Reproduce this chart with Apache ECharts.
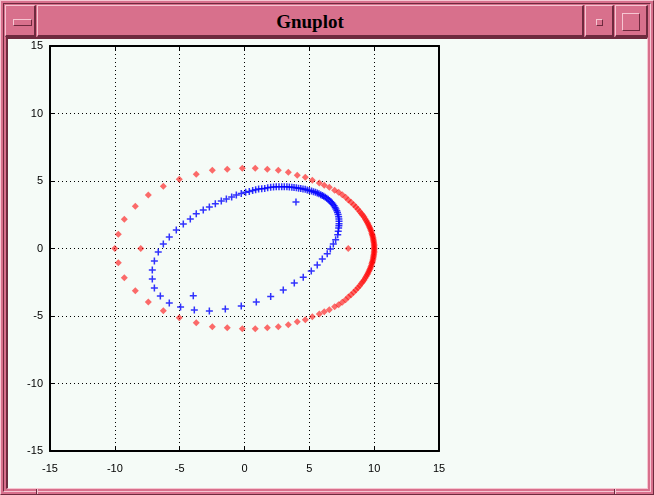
<!DOCTYPE html>
<html>
<head>
<meta charset="utf-8">
<script src="https://cdn.jsdelivr.net/npm/echarts@6/dist/echarts.min.js"></script>
<style>
  html, body { margin: 0; padding: 0; }
  body { width: 654px; height: 495px; position: relative; overflow: hidden; background: #d8708c; }
  .abs { position: absolute; box-sizing: border-box; }
  .raised { border-top: 1px solid #f6c6d2; border-left: 1px solid #f6c6d2; border-bottom: 2px solid #6e2a3e; border-right: 2px solid #6e2a3e; background: #d8708c; }
  .sunken { border-top: 2px solid #6e2a3e; border-left: 2px solid #6e2a3e; border-bottom: 1px solid #f6c6d2; border-right: 1px solid #f6c6d2; }
  #title { font-family: "Liberation Serif", serif; font-weight: bold; font-size: 19px; color: #000; text-align: center; line-height: 31px; }
  #chart { position: absolute; left: 0; top: 0; width: 654px; height: 495px; }
</style>
</head>
<body>
<div class="abs" style="left:0;top:0;width:654px;height:495px;border-top:1px solid #f6c6d2;border-left:1px solid #f6c6d2;border-bottom:1px solid #6e2a3e;border-right:1px solid #6e2a3e;"></div>
<div class="abs" style="left:3px;top:3px;width:648px;height:489px;border-top:1px solid #6e2a3e;border-left:1px solid #6e2a3e;border-bottom:1px solid #f6c6d2;border-right:1px solid #f6c6d2;"></div>
<div class="abs raised" style="left:5px;top:5px;width:31px;height:32px;"></div>
<div class="abs" style="left:13px;top:19px;width:19px;height:7px;border-top:1px solid #f6c6d2;border-left:1px solid #f6c6d2;border-bottom:1px solid #6e2a3e;border-right:1px solid #6e2a3e;"></div>
<div class="abs raised" id="title" style="left:37px;top:5px;width:547px;height:32px;">Gnuplot</div>
<div class="abs raised" style="left:585px;top:5px;width:29px;height:32px;"></div>
<div class="abs" style="left:596px;top:19px;width:7px;height:7px;border-top:1px solid #f6c6d2;border-left:1px solid #f6c6d2;border-bottom:1px solid #6e2a3e;border-right:1px solid #6e2a3e;"></div>
<div class="abs raised" style="left:615px;top:5px;width:33px;height:32px;"></div>
<div class="abs" style="left:622px;top:13px;width:18px;height:18px;border-top:1px solid #f6c6d2;border-left:1px solid #f6c6d2;border-bottom:1px solid #6e2a3e;border-right:1px solid #6e2a3e;"></div>
<div class="abs sunken" style="left:6px;top:37px;width:642px;height:452px;background:#f5fbf7;"></div>
<div class="abs" style="left:36px;top:489px;width:1px;height:5px;background:#6e2a3e;"></div>
<div class="abs" style="left:37px;top:489px;width:1px;height:5px;background:#f6c6d2;"></div>
<div class="abs" style="left:614px;top:489px;width:1px;height:5px;background:#6e2a3e;"></div>
<div class="abs" style="left:615px;top:489px;width:1px;height:5px;background:#f6c6d2;"></div>
<div id="chart"></div>
<script>
// Axis ticks
const xTicks = [-15, -10, -5, 0, 5, 10, 15];
const yTicks = [-15, -10, -5, 0, 5, 10, 15];

// Red diamonds: upper arc (left to right)
const redUpperX = [-10.0, -9.73, -9.27, -8.42, -7.42, -6.26, -5.03, -3.72, -2.48, -1.33, -0.17, 0.83, 1.76, 2.61, 3.38, 4.07, 4.69, 5.23, 5.77, 6.15, 6.54, 6.95, 7.26, 7.54, 7.80, 8.01, 8.22, 8.42, 8.59, 8.75, 8.89, 9.01, 9.12, 9.22, 9.31, 9.39, 9.47, 9.53, 9.59, 9.65, 9.70, 9.74, 9.79, 9.82, 9.85, 9.88, 9.91, 9.93, 9.95, 9.96, 9.98, 9.99, 10.0, 10.0, 10.0];
const redUpperY = [0.0, 1.05, 2.16, 3.13, 3.96, 4.61, 5.13, 5.50, 5.79, 5.87, 5.94, 5.94, 5.87, 5.79, 5.64, 5.42, 5.27, 5.05, 4.85, 4.68, 4.53, 4.31, 4.16, 3.99, 3.79, 3.59, 3.42, 3.24, 3.07, 2.91, 2.75, 2.60, 2.46, 2.33, 2.19, 2.06, 1.93, 1.81, 1.69, 1.57, 1.46, 1.35, 1.24, 1.12, 1.02, 0.92, 0.81, 0.71, 0.61, 0.50, 0.40, 0.30, 0.20, 0.10, 0.0];
// Red diamonds: lower arc (right to left)
const redLowerX = [10.0, 10.0, 9.99, 9.98, 9.96, 9.95, 9.93, 9.91, 9.88, 9.85, 9.82, 9.79, 9.74, 9.70, 9.65, 9.59, 9.53, 9.47, 9.39, 9.31, 9.22, 9.12, 9.01, 8.89, 8.75, 8.59, 8.42, 8.22, 8.01, 7.80, 7.54, 7.26, 6.95, 6.54, 6.15, 5.77, 5.23, 4.69, 4.07, 3.38, 2.61, 1.76, 0.83, -0.17, -1.33, -2.48, -3.72, -5.03, -6.26, -7.42, -8.42, -9.27, -9.73];
const redLowerY = [-0.10, -0.20, -0.30, -0.40, -0.50, -0.61, -0.71, -0.81, -0.92, -1.02, -1.12, -1.24, -1.35, -1.46, -1.57, -1.69, -1.81, -1.93, -2.06, -2.19, -2.33, -2.46, -2.60, -2.75, -2.91, -3.07, -3.24, -3.42, -3.59, -3.79, -3.99, -4.16, -4.31, -4.53, -4.68, -4.85, -5.05, -5.27, -5.42, -5.64, -5.79, -5.87, -5.94, -5.94, -5.87, -5.79, -5.50, -5.13, -4.61, -3.96, -3.13, -2.16, -1.05];
// Red isolated points
const redExtraX = [8.0, -8.0];
const redExtraY = [0.0, 0.0];

// Blue crosses: loop
const blueX = [-6.26, -5.80, -5.26, -4.72, -4.18, -3.72, -3.18, -2.71, -2.25, -1.79, -1.40, -0.99, -0.63, -0.25, 0.09, 0.37, 0.63, 0.86, 1.09, 1.33, 1.56, 1.79, 2.02,
  2.24, 2.45, 2.66, 2.87, 3.07, 3.27, 3.46, 3.65, 3.82, 4.00, 4.17, 4.34, 4.51, 4.68, 4.84, 5.00, 5.17, 5.32, 5.47, 5.61, 5.74, 5.88, 6.00, 6.11, 6.23, 6.34, 6.45, 6.55, 6.65, 6.74, 6.82, 6.91, 6.99, 7.05, 7.12, 7.17, 7.22, 7.26, 7.28, 7.29,
  7.29, 7.28, 7.26, 7.23, 7.19, 7.03, 6.85, 6.62, 6.38, 6.00, 5.61, 5.15, 4.53, 3.84, 2.99, 2.02, 0.91, -0.25, -1.48, -2.71, -3.87, -4.93, -5.80, -6.49, -6.95, -7.11, -7.11, -6.95, -6.65];
const blueY = [0.33, 0.85, 1.37, 1.81, 2.19, 2.58, 2.85, 3.07, 3.32, 3.52, 3.67, 3.81, 3.96, 4.08, 4.16, 4.23, 4.30, 4.36, 4.41, 4.43, 4.45, 4.50, 4.53,
  4.56, 4.57, 4.58, 4.58, 4.58, 4.57, 4.56, 4.54, 4.52, 4.50, 4.47, 4.44, 4.41, 4.38, 4.34, 4.30, 4.26, 4.21, 4.16, 4.11, 4.05, 3.99, 3.93, 3.87, 3.80, 3.72, 3.64, 3.55, 3.46, 3.37, 3.27, 3.16, 3.04, 2.93, 2.80, 2.66, 2.52, 2.36, 2.19, 2.01,
  1.84, 1.68, 1.52, 1.27, 1.02, 0.65, 0.33, -0.04, -0.39, -0.78, -1.22, -1.67, -2.13, -2.56, -3.07, -3.55, -3.96, -4.25, -4.48, -4.63, -4.56, -4.33, -4.04, -3.52, -2.93, -2.26, -1.59, -0.93, -0.26];
// Blue isolated points
const blueExtraX = [3.97, -3.95];
const blueExtraY = [3.44, -3.50];

function zip(xs, ys) { return xs.map((x, i) => [x, ys[i]]); }
const redData = zip(redUpperX, redUpperY).concat(zip(redLowerX, redLowerY), zip(redExtraX, redExtraY));
const blueData = zip(blueX, blueY).concat(zip(blueExtraX, blueExtraY));

const tickMin = xTicks[0], tickMax = xTicks[xTicks.length - 1], tickStep = xTicks[1] - xTicks[0];
const yMin = yTicks[0], yMax = yTicks[yTicks.length - 1], yStep = yTicks[1] - yTicks[0];

const lab = { color: '#000', fontFamily: 'Liberation Sans', fontSize: 11 };
const axisLine = { show: true, onZero: false, lineStyle: { color: '#000', width: 2 } };
const tick = { show: true, inside: true, length: 5, lineStyle: { color: '#000', width: 1 } };
const grid = { show: true, lineStyle: { color: '#000', width: 1, type: [1, 3] } };

const chart = echarts.init(document.getElementById('chart'), null, { renderer: 'canvas' });
chart.setOption({
  animation: false,
  backgroundColor: 'transparent',
  grid: { left: 50, top: 46, right: 215, bottom: 44, containLabel: false },
  xAxis: [
    { type: 'value', position: 'bottom', min: tickMin, max: tickMax, interval: tickStep, axisLine, axisTick: tick, axisLabel: Object.assign({ margin: 12 }, lab), splitLine: grid },
    { type: 'value', position: 'top', min: tickMin, max: tickMax, interval: tickStep, axisLine, axisTick: tick, axisLabel: { show: false }, splitLine: { show: false } }
  ],
  yAxis: [
    { type: 'value', position: 'left', min: yMin, max: yMax, interval: yStep, axisLine, axisTick: tick, axisLabel: Object.assign({ margin: 7 }, lab), splitLine: grid },
    { type: 'value', position: 'right', min: yMin, max: yMax, interval: yStep, axisLine, axisTick: tick, axisLabel: { show: false }, splitLine: { show: false } }
  ],
  series: [
    { type: 'scatter', xAxisIndex: 0, yAxisIndex: 0, data: redData, symbol: 'diamond', symbolSize: 7,
      itemStyle: { color: 'rgba(255,0,0,0.72)' }, silent: true },
    { type: 'scatter', xAxisIndex: 0, yAxisIndex: 0, data: blueData,
      symbol: 'path://M2.75,0H4.25V2.75H7V4.25H4.25V7H2.75V4.25H0V2.75H2.75Z', symbolSize: 7,
      itemStyle: { color: '#0000ff' }, silent: true }
  ]
});
</script>
</body>
</html>
